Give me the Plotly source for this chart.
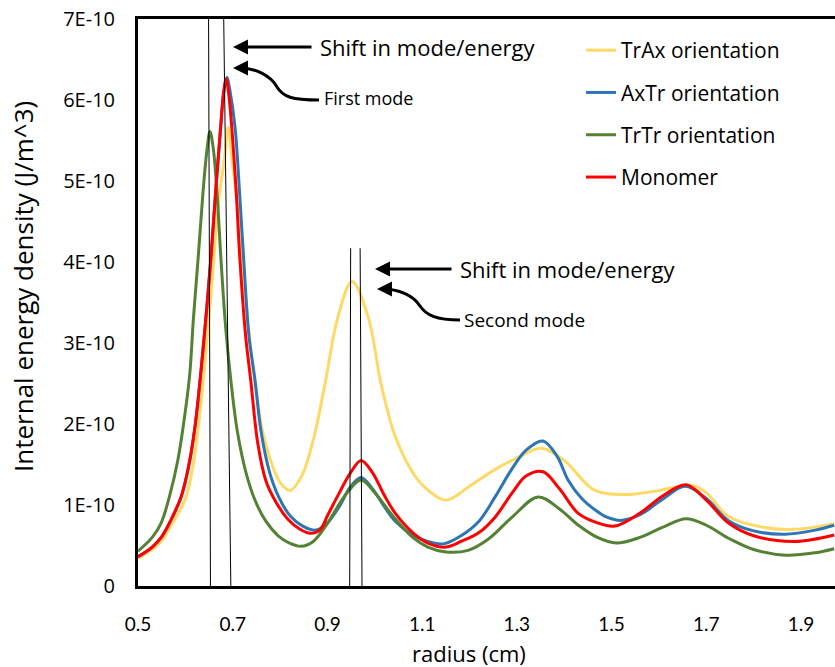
import plotly.graph_objects as go

# ---- data (y in units of 1E-10 J/m^3) ----
SCALE = 1e-10
SERIES_NAMES = ["TrAx orientation", "AxTr orientation", "TrTr orientation", "Monomer"]
SERIES_COLORS = ["#FFD966", "#2E75B6", "#548235", "#FF0000"]

TRAX_X = [0.500, 0.530, 0.549, 0.570, 0.599, 0.615, 0.630, 0.645, 0.660, 0.665, 0.672, 0.682, 0.690,
          0.698, 0.708, 0.722, 0.735, 0.747, 0.760, 0.780, 0.800, 0.821, 0.845, 0.870, 0.895, 0.922,
          0.952, 0.986, 1.013, 1.040, 1.070, 1.100, 1.150, 1.197, 1.254, 1.300, 1.351, 1.400, 1.465,
          1.535, 1.600, 1.634, 1.670, 1.700, 1.746, 1.815, 1.887, 1.970]
TRAX_Y = [0.34, 0.45, 0.55, 0.75, 1.06, 1.45, 2.10, 3.00, 4.02, 4.43, 4.84, 5.25, 5.66,
          5.30, 4.80, 3.95, 3.10, 2.55, 2.00, 1.55, 1.28, 1.18, 1.35, 1.80, 2.50, 3.32,
          3.76, 3.32, 2.50, 1.90, 1.50, 1.25, 1.06, 1.22, 1.44, 1.58, 1.70, 1.55, 1.18,
          1.13, 1.18, 1.22, 1.24, 1.15, 0.86, 0.73, 0.70, 0.77]

AXTR_X = [0.500, 0.530, 0.549, 0.570, 0.591, 0.606, 0.620, 0.637, 0.654, 0.665, 0.675, 0.681, 0.688,
          0.694, 0.705, 0.714, 0.723, 0.734, 0.747, 0.760, 0.778, 0.797, 0.822, 0.848, 0.876, 0.900,
          0.925, 0.948, 0.971, 0.995, 1.020, 1.043, 1.080, 1.112, 1.145, 1.182, 1.220, 1.254, 1.290,
          1.320, 1.355, 1.385, 1.408, 1.437, 1.465, 1.490, 1.520, 1.560, 1.610, 1.655, 1.700, 1.746,
          1.800, 1.866, 1.930, 1.970]
AXTR_Y = [0.36, 0.48, 0.60, 0.82, 1.10, 1.45, 1.95, 2.90, 4.05, 4.95, 5.70, 6.10, 6.28,
          6.12, 5.66, 4.90, 4.05, 3.10, 2.54, 1.90, 1.40, 1.10, 0.86, 0.74, 0.69, 0.78,
          0.98, 1.22, 1.34, 1.20, 0.98, 0.80, 0.63, 0.55, 0.52, 0.62, 0.80, 1.10, 1.45,
          1.68, 1.79, 1.60, 1.31, 1.08, 0.94, 0.85, 0.81, 0.88, 1.08, 1.23, 1.08, 0.81,
          0.68, 0.64, 0.69, 0.75]

TRTR_X = [0.500, 0.530, 0.549, 0.567, 0.584, 0.595, 0.609, 0.617, 0.627, 0.637, 0.645, 0.652, 0.659,
          0.667, 0.675, 0.685, 0.696, 0.710, 0.728, 0.747, 0.770, 0.796, 0.820, 0.844, 0.870, 0.901,
          0.935, 0.971, 1.000, 1.040, 1.080, 1.112, 1.150, 1.197, 1.240, 1.290, 1.345, 1.390, 1.430,
          1.470, 1.510, 1.560, 1.610, 1.657, 1.700, 1.750, 1.800, 1.868, 1.930, 1.970]
TRTR_Y = [0.43, 0.60, 0.78, 1.12, 1.55, 1.95, 2.60, 3.30, 4.05, 4.84, 5.35, 5.61, 5.40,
          4.84, 4.05, 3.20, 2.54, 1.90, 1.40, 1.06, 0.80, 0.62, 0.53, 0.49, 0.55, 0.78,
          1.10, 1.31, 1.15, 0.85, 0.60, 0.48, 0.42, 0.44, 0.58, 0.85, 1.10, 0.95, 0.75,
          0.60, 0.53, 0.60, 0.73, 0.83, 0.75, 0.58, 0.45, 0.38, 0.41, 0.46]

MONO_X = [0.500, 0.530, 0.549, 0.570, 0.591, 0.606, 0.620, 0.637, 0.654, 0.665, 0.675, 0.681, 0.686,
          0.691, 0.698, 0.707, 0.715, 0.727, 0.738, 0.753, 0.770, 0.789, 0.817, 0.842, 0.865, 0.885,
          0.901, 0.925, 0.948, 0.971, 0.995, 1.020, 1.043, 1.080, 1.112, 1.150, 1.182, 1.220, 1.254,
          1.290, 1.320, 1.355, 1.390, 1.429, 1.470, 1.507, 1.560, 1.610, 1.657, 1.700, 1.746, 1.800,
          1.887, 1.970]
MONO_Y = [0.36, 0.48, 0.60, 0.82, 1.10, 1.45, 1.95, 2.90, 4.05, 4.95, 5.70, 6.10, 6.26,
          6.10, 5.66, 4.90, 4.05, 3.10, 2.54, 1.76, 1.30, 1.06, 0.82, 0.70, 0.65, 0.70,
          0.88, 1.15, 1.39, 1.55, 1.40, 1.12, 0.90, 0.66, 0.53, 0.48, 0.55, 0.66, 0.85,
          1.15, 1.36, 1.41, 1.20, 0.90, 0.78, 0.74, 0.90, 1.12, 1.25, 1.06, 0.78, 0.62,
          0.55, 0.63]

X_TICKS = [0.5, 0.7, 0.9, 1.1, 1.3, 1.5, 1.7, 1.9]
Y_TICKS = [0, 1, 2, 3, 4, 5, 6, 7]
Y_TICK_LABELS = ["0", "1E-10", "2E-10", "3E-10", "4E-10", "5E-10", "6E-10", "7E-10"]
X_TITLE = "radius (cm)"
Y_TITLE = "Internal energy density (J/m^3)"

# mode-shift guide lines: (x at bottom, x at top, y top)
MODE_LINES = [(0.653, 0.649, 7.0), (0.696, 0.681, 7.0), (0.947, 0.949, 4.17), (0.973, 0.969, 4.17)]

FONT = "Open Sans"
W, H = 835, 667
L, R, T, B = 138, 0, 19, 81

def px(xp, yp):
    return (xp - L) / (W - L - R), (H - B - yp) / (H - T - B)

fig = go.Figure()
for name, color, xs, ys in zip(SERIES_NAMES, SERIES_COLORS,
                               [TRAX_X, AXTR_X, TRTR_X, MONO_X],
                               [TRAX_Y, AXTR_Y, TRTR_Y, MONO_Y]):
    fig.add_trace(go.Scatter(x=xs, y=[v * SCALE for v in ys], mode="lines", name=name,
                             legendgroup=name,
                             line=dict(color=color, width=3, shape="spline", smoothing=1.0)))

shapes = []
for xb, xt, yt in MODE_LINES:
    shapes.append(dict(type="line", xref="x", yref="y", x0=xb, y0=0, x1=xt, y1=yt * SCALE,
                       line=dict(color="black", width=1)))

def path_from_px(pts):
    out = []
    for cmd, coords in pts:
        conv = []
        for (a, b) in coords:
            u, v = px(a, b)
            conv.append(f"{u:.5f},{v:.5f}")
        out.append(cmd + " " + " ".join(conv))
    return " ".join(out)

curve1 = path_from_px([("M", [(319, 100)]), ("C", [(292, 100), (283, 97), (277, 87)]),
                       ("C", [(271, 76), (256, 68), (240, 68)])])
curve2 = path_from_px([("M", [(460, 320)]), ("C", [(436, 320), (426, 315), (420, 306)]),
                       ("C", [(413, 295), (398, 289), (383, 289)])])
for p in (curve1, curve2):
    shapes.append(dict(type="path", xref="paper", yref="paper", path=p,
                       line=dict(color="black", width=3)))
fig.update_layout(shapes=shapes)

def arrow(tip, tail):
    tx, ty = px(*tip)
    return dict(x=tx, y=ty, xref="paper", yref="paper", ax=tail[0] - tip[0], ay=tail[1] - tip[1],
                text="", showarrow=True, arrowhead=2, arrowsize=1, arrowwidth=3, arrowcolor="black")

def label(pos, text, size, anchor="left", angle=0, pad=1):
    x, y = px(*pos)
    return dict(x=x, y=y, xref="paper", yref="paper", text=text, showarrow=False, textangle=angle,
                xanchor=anchor, yanchor="middle", borderpad=pad,
                font=dict(family=FONT, size=size, color="black"))

annotations = [
    arrow((233, 47), (313, 47)),
    label((318, 47), "Shift in mode/energy", 22),
    arrow((233, 68), (244, 68)),
    label((322, 98), "First mode", 18),
    arrow((375, 269), (453, 269)),
    label((458, 269), "Shift in mode/energy", 22),
    arrow((377, 289), (388, 289)),
    label((462, 320), "Second mode", 19),
    label((469, 653), X_TITLE, 22, anchor="center", pad=0),
    label((23, 287), Y_TITLE, 26, anchor="center", angle=-90),
]

fig.update_layout(
    width=W, height=H,
    margin=dict(l=L, r=R, t=T, b=B),
    paper_bgcolor="white", plot_bgcolor="white",
    font=dict(family=FONT, color="black"),
    showlegend=True,
    legend=dict(x=px(581, 0)[0], y=px(0, 30)[1], xanchor="left", yanchor="top",
                font=dict(family=FONT, size=21, color="black"),
                tracegroupgap=12, bgcolor="rgba(0,0,0,0)", itemwidth=30),
    annotations=annotations,
    xaxis=dict(range=[0.5, 0.5 + (W - L - R) / 473.6], tickvals=X_TICKS,
               ticktext=[f"{v:.1f}" for v in X_TICKS],
               showline=True, linecolor="black", linewidth=3, mirror=True,
               showgrid=False, zeroline=False, ticks="outside", ticklen=19,
               tickcolor="rgba(0,0,0,0)", tickfont=dict(family="Lato", size=19)),
    yaxis=dict(range=[0, 7 * SCALE], tickvals=[v * SCALE for v in Y_TICKS], ticktext=Y_TICK_LABELS,
               showline=True, linecolor="black", linewidth=3, mirror=False,
               showgrid=False, zeroline=False, ticks="outside", ticklen=16,
               tickcolor="rgba(0,0,0,0)", tickfont=dict(family=FONT, size=20)),
)

fig.write_html("out.html")
